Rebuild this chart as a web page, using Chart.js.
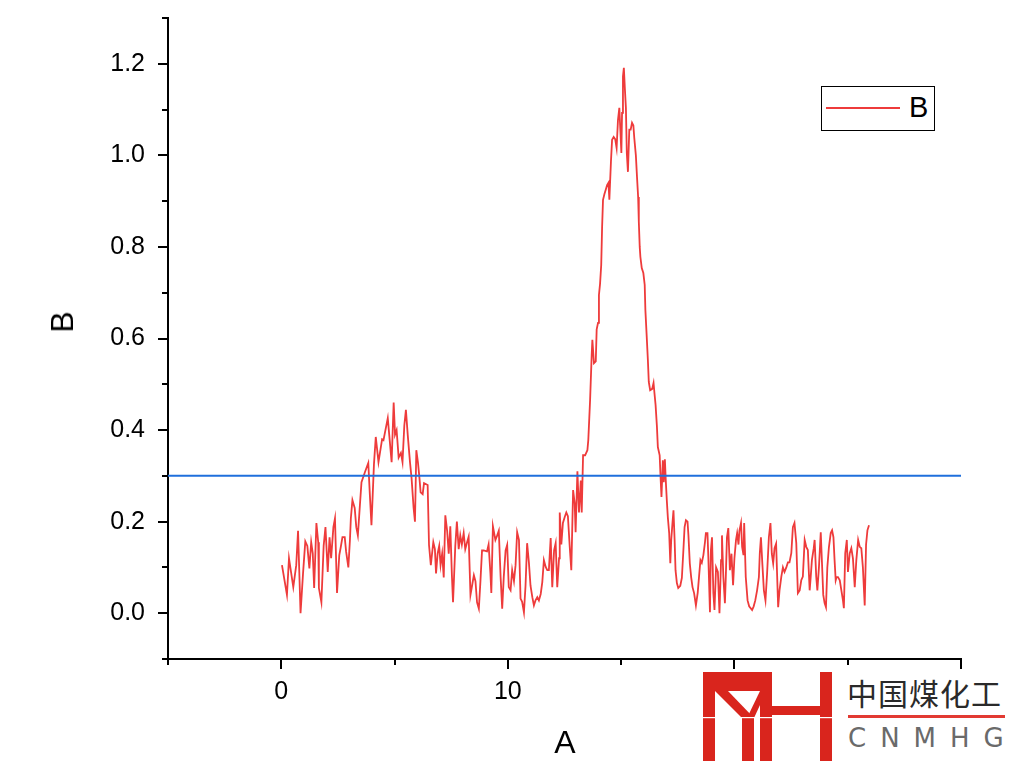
<!DOCTYPE html>
<html>
<head>
<meta charset="utf-8">
<script src="https://cdn.jsdelivr.net/npm/chart.js@4.4.1/dist/chart.umd.min.js"></script>
<style>
  html, body { margin: 0; padding: 0; background: #fff; }
  #wrap { position: relative; width: 1011px; height: 767px; overflow: hidden; font-family: "Liberation Sans", Arial, sans-serif; }
  #chart { position: absolute; left: 0; top: 0; }
  .title { position: absolute; font-size: 32px; color: #000; line-height: 1; }
  #xTitle { left: 565px; top: 742px; transform: translate(-50%, -50%); }
  #yTitle { left: 62px; top: 322px; transform: translate(-50%, -50%) rotate(-90deg); }
  #legend { position: absolute; left: 821px; top: 86px; width: 114px; height: 45px; border: 1px solid #000; box-sizing: border-box; background: #fff; }
  #legend .swatch { position: absolute; left: 4px; top: 20px; width: 74px; height: 0; border-top: 2px solid #ee3b3b; }
  #legend .lbl { position: absolute; left: 87px; top: 6px; font-size: 29px; line-height: 1; }
  #logoBg { position: absolute; left: 696px; top: 670px; width: 315px; height: 97px; background: #fff; }
  #logo { position: absolute; left: 703px; top: 672px; }
  #logoCn { position: absolute; left: 847px; top: 676px; font-family: "Noto Sans CJK SC", sans-serif; font-size: 30px; color: #2a2a2a; letter-spacing: 1px; line-height: 1.1; }
  #logoRule { position: absolute; left: 848px; top: 715px; width: 157px; height: 3px; background: #e23a32; }
  #logoEn { position: absolute; left: 848px; top: 724px; font-family: "DejaVu Sans", sans-serif; font-size: 26px; color: #6a6a6a; letter-spacing: 14px; line-height: 1.1; }
</style>
</head>
<body>
<div id="wrap">
  <canvas id="chart" width="1011" height="767"></canvas>
  <div class="title" id="xTitle">A</div>
  <div class="title" id="yTitle">B</div>
  <div id="legend"><div class="swatch"></div><div class="lbl">B</div></div>
  <div id="logoBg"></div>
  <svg id="logo" width="132" height="90" viewBox="0 0 132 90">
    <g fill="#d9251d">
      <rect x="0" y="0" width="12" height="89"/>
      <rect x="0" y="0" width="69" height="19"/>
      <polygon points="12,19 25,19 51,46 39,46"/>
      <polygon points="57,19 57,33 51,46 44,46"/>
      <rect x="39" y="44" width="12" height="45"/>
      <rect x="57" y="0" width="12" height="89"/>
      <rect x="69" y="34" width="48" height="9"/>
      <rect x="117" y="0" width="12" height="89"/>
    </g>
    <rect x="0" y="45" width="132" height="1.2" fill="#fff"/>
  </svg>
  <div id="logoCn">中国煤化工</div>
  <div id="logoRule"></div>
  <div id="logoEn">CNMHG</div>
</div>
<script>
// --- DATA ---
const xValues = [
  0.03, 0.25, 0.34, 0.53, 0.66, 0.74, 0.85, 0.96, 1.06, 1.15, 1.24, 1.32, 1.39, 1.45, 1.55, 1.63, 1.66, 1.77, 1.87, 1.95,
  2.05, 2.13, 2.2, 2.3, 2.37, 2.46, 2.56, 2.62, 2.7, 2.8, 2.86, 2.96, 3.03, 3.07, 3.14, 3.24, 3.31, 3.38, 3.47, 3.54,
  3.69, 3.84, 3.91, 3.98, 4.09, 4.17, 4.29, 4.45, 4.51, 4.7, 4.87, 4.96, 5.02, 5.09, 5.18, 5.28, 5.35, 5.43, 5.5, 5.58,
  5.68, 5.75, 5.84, 5.9, 5.96, 6.03, 6.09, 6.15, 6.24, 6.3, 6.46, 6.52, 6.6, 6.71, 6.78, 6.83, 6.9, 6.97, 7.03, 7.1,
  7.17, 7.24, 7.32, 7.39, 7.46, 7.53, 7.58, 7.68, 7.75, 7.83, 7.9, 7.97, 8.05, 8.12, 8.2, 8.27, 8.35, 8.42, 8.5, 8.57,
  8.64, 8.72, 8.79, 8.86, 8.93, 9.08, 9.15, 9.23, 9.27, 9.34, 9.45, 9.53, 9.6, 9.68, 9.75, 9.82, 9.9, 9.97, 10.04, 10.12,
  10.19, 10.27, 10.34, 10.41, 10.49, 10.56, 10.63, 10.71, 10.78, 10.85, 10.93, 11.0, 11.08, 11.15, 11.22, 11.3, 11.37, 11.45, 11.52, 11.59,
  11.67, 11.74, 11.81, 11.89, 11.96, 12.04, 12.11, 12.18, 12.26, 12.29, 12.36, 12.43, 12.51, 12.58, 12.65, 12.73, 12.8, 12.88, 12.95, 12.99,
  13.07, 13.14, 13.22, 13.26, 13.32, 13.41, 13.51, 13.55, 13.63, 13.7, 13.73, 13.8, 13.88, 13.92, 13.98, 14.02, 14.07, 14.12, 14.16, 14.2,
  14.26, 14.32, 14.38, 14.44, 14.48, 14.55, 14.6, 14.67, 14.74, 14.8, 14.86, 14.92, 14.97, 15.01, 15.04, 15.08, 15.12, 15.16, 15.21, 15.25,
  15.3, 15.36, 15.42, 15.48, 15.54, 15.58, 15.65, 15.7, 15.75, 15.78, 15.82, 15.85, 15.91, 15.98, 16.04, 16.07, 16.13, 16.18, 16.22, 16.28,
  16.37, 16.43, 16.47, 16.52, 16.58, 16.62, 16.7, 16.74, 16.78, 16.84, 16.88, 16.93, 16.97, 17.02, 17.06, 17.12, 17.17, 17.21, 17.27, 17.31,
  17.36, 17.4, 17.46, 17.52, 17.61, 17.68, 17.74, 17.8, 17.86, 17.93, 17.97, 18.03, 18.09, 18.15, 18.22, 18.3, 18.38, 18.45, 18.5, 18.56,
  18.63, 18.7, 18.74, 18.81, 18.85, 18.92, 18.96, 19.01, 19.07, 19.12, 19.19, 19.27, 19.34, 19.41, 19.45, 19.51, 19.58, 19.62, 19.67, 19.73,
  19.8, 19.87, 19.94, 20.0, 20.07, 20.12, 20.18, 20.22, 20.29, 20.34, 20.4, 20.43, 20.5, 20.58, 20.65, 20.78, 20.85, 20.92, 21.0, 21.08,
  21.12, 21.17, 21.23, 21.3, 21.37, 21.44, 21.52, 21.59, 21.65, 21.71, 21.77, 21.84, 21.93, 21.99, 22.07, 22.14, 22.21, 22.29, 22.36, 22.43,
  22.51, 22.58, 22.65, 22.73, 22.8, 22.88, 22.95, 23.02, 23.1, 23.17, 23.24, 23.32, 23.36, 23.42, 23.5, 23.54, 23.61, 23.66, 23.73, 23.81,
  23.86, 23.92, 23.98, 24.04, 24.1, 24.17, 24.25, 24.31, 24.37, 24.42, 24.47, 24.51, 24.57, 24.65, 24.72, 24.79, 24.83, 24.89, 24.96, 25.01,
  25.09, 25.16, 25.23, 25.31, 25.38, 25.46, 25.53, 25.6, 25.67, 25.75, 25.81, 25.87, 25.94
];
const bValues = [
  0.105, 0.04, 0.12, 0.057, 0.105, 0.18, 0.0, 0.087, 0.157, 0.147, 0.098, 0.155, 0.13, 0.055, 0.197, 0.155, 0.055, 0.024, 0.147, 0.188,
  0.09, 0.166, 0.12, 0.188, 0.207, 0.044, 0.127, 0.143, 0.166, 0.166, 0.135, 0.1, 0.16, 0.207, 0.247, 0.23, 0.188, 0.17, 0.236, 0.286,
  0.308, 0.328, 0.258, 0.192, 0.325, 0.385, 0.33, 0.38, 0.378, 0.426, 0.33, 0.46, 0.39, 0.40, 0.34, 0.35, 0.33, 0.41, 0.444, 0.39,
  0.33, 0.295, 0.23, 0.2, 0.356, 0.33, 0.3, 0.264, 0.26, 0.284, 0.28, 0.149, 0.105, 0.155, 0.14, 0.087, 0.13, 0.147, 0.105, 0.13,
  0.078, 0.214, 0.18, 0.13, 0.19, 0.083, 0.024, 0.147, 0.2, 0.14, 0.17, 0.15, 0.175, 0.14, 0.155, 0.167, 0.04, 0.06, 0.083, 0.07,
  0.024, 0.01, 0.07, 0.137, 0.137, 0.135, 0.15, 0.087, 0.044, 0.19, 0.16, 0.17, 0.18, 0.079, 0.01, 0.08, 0.137, 0.149, 0.057, 0.05,
  0.094, 0.07, 0.105, 0.177, 0.16, 0.032, 0.025, 0.002, 0.06, 0.153, 0.11, 0.06, 0.035, 0.017, 0.028, 0.035, 0.028, 0.042, 0.068, 0.116,
  0.101, 0.094, 0.094, 0.164, 0.057, 0.137, 0.153, 0.057, 0.12, 0.22, 0.15, 0.197, 0.21, 0.22, 0.212, 0.146, 0.094, 0.269, 0.24, 0.177,
  0.31, 0.22, 0.29, 0.22, 0.345, 0.345, 0.356, 0.378, 0.466, 0.564, 0.597, 0.546, 0.55, 0.62, 0.634, 0.695, 0.72, 0.76, 0.844, 0.903,
  0.915, 0.925, 0.935, 0.94, 0.903, 0.986, 1.034, 1.04, 1.035, 1.016, 1.077, 1.104, 1.05, 1.005, 1.093, 1.172, 1.191, 1.15, 1.104, 1.005,
  0.964, 1.056, 1.056, 1.071, 1.065, 1.038, 1.0, 0.953, 0.909, 0.855, 0.8, 0.778, 0.754, 0.743, 0.717, 0.662, 0.603, 0.553, 0.505, 0.487,
  0.49, 0.503, 0.481, 0.455, 0.407, 0.363, 0.345, 0.297, 0.254, 0.334, 0.286, 0.336, 0.29, 0.243, 0.21, 0.175, 0.109, 0.16, 0.2, 0.225,
  0.16, 0.094, 0.066, 0.055, 0.06, 0.077, 0.131, 0.188, 0.203, 0.2, 0.17, 0.109, 0.079, 0.057, 0.044, 0.017, 0.045, 0.087, 0.116, 0.11,
  0.127, 0.155, 0.175, 0.175, 0.12, 0.002, 0.137, 0.166, 0.044, 0.007, 0.1, 0.09, 0.0, 0.116, 0.17, 0.08, 0.022, 0.08, 0.166, 0.186,
  0.094, 0.13, 0.061, 0.12, 0.16, 0.175, 0.15, 0.18, 0.197, 0.145, 0.127, 0.197, 0.079, 0.028, 0.015, 0.007, 0.015, 0.028, 0.05, 0.079,
  0.131, 0.166, 0.11, 0.05, 0.028, 0.085, 0.166, 0.197, 0.13, 0.109, 0.142, 0.152, 0.013, 0.05, 0.08, 0.1, 0.09, 0.1, 0.111, 0.111,
  0.131, 0.188, 0.197, 0.153, 0.044, 0.05, 0.072, 0.08, 0.16, 0.145, 0.138, 0.05, 0.075, 0.116, 0.142, 0.16, 0.08, 0.05, 0.1, 0.177,
  0.115, 0.04, 0.022, 0.013, 0.1, 0.144, 0.175, 0.181, 0.166, 0.116, 0.072, 0.079, 0.079, 0.072, 0.05, 0.028, 0.011, 0.131, 0.16, 0.09,
  0.131, 0.142, 0.12, 0.057, 0.116, 0.16, 0.145, 0.142, 0.1, 0.017, 0.15, 0.181, 0.192
];
// horizontal reference line
const refX = [-5, 30];
const refY = [0.3, 0.3];

const xTicks = [0, 10, 20, 30];
const yTicks = [0, 0.2, 0.4, 0.6, 0.8, 1.0, 1.2];
const xMinorTicks = [-5, 5, 15, 25];
const yMinorTicks = [-0.1, 0.1, 0.3, 0.5, 0.7, 0.9, 1.1, 1.3];

const FONT = '"Liberation Sans", Arial, sans-serif';

// minor tick marks (Chart.js has none built in)
const minorTicks = {
  id: 'minorTicks',
  afterDraw(chart) {
    const ctx = chart.ctx;
    const xs = chart.scales.x, ys = chart.scales.y;
    const area = chart.chartArea;
    ctx.save();
    ctx.strokeStyle = '#000';
    ctx.lineWidth = 2;
    ctx.beginPath();
    xMinorTicks.forEach(v => {
      const px = Math.round(xs.getPixelForValue(v));
      ctx.moveTo(px, area.bottom); ctx.lineTo(px, area.bottom + 6);
    });
    yMinorTicks.forEach(v => {
      const py = Math.round(ys.getPixelForValue(v));
      ctx.moveTo(area.left, py); ctx.lineTo(area.left - 6, py);
    });
    ctx.stroke();
    ctx.restore();
  }
};

new Chart(document.getElementById('chart'), {
  type: 'line',
  data: {
    datasets: [
      {
        label: 'ref',
        data: refX.map((x, i) => ({ x, y: refY[i] })),
        borderColor: '#1f6fdc',
        borderWidth: 2,
        pointRadius: 0
      },
      {
        label: 'B',
        data: xValues.map((x, i) => ({ x, y: bValues[i] })),
        borderColor: '#ee3b3b',
        borderWidth: 1.8,
        pointRadius: 0,
        tension: 0
      }
    ]
  },
  options: {
    responsive: false,
    animation: false,
    devicePixelRatio: 1,
    layout: { padding: { left: 0, right: 50, top: 18, bottom: 0 } },
    plugins: { legend: { display: false }, tooltip: { enabled: false } },
    scales: {
      x: {
        type: 'linear',
        min: -5, max: 30,
        afterFit: s => { s.height = 108; s.paddingLeft = 0; s.paddingRight = 0; },
        afterBuildTicks: s => { s.ticks = xTicks.map(v => ({ value: v })); },
        border: { display: true, color: '#000', width: 2 },
        grid: { drawOnChartArea: false, drawTicks: true, tickLength: 10, color: '#000', lineWidth: 2 },
        ticks: { color: '#000', padding: 8, font: { family: FONT, size: 25 }, maxRotation: 0 }
      },
      y: {
        type: 'linear',
        min: -0.1, max: 1.3,
        afterFit: s => { s.width = 168; s.paddingTop = 0; s.paddingBottom = 0; },
        afterBuildTicks: s => { s.ticks = yTicks.map(v => ({ value: v })); },
        border: { display: true, color: '#000', width: 2 },
        grid: { drawOnChartArea: false, drawTicks: true, tickLength: 10, color: '#000', lineWidth: 2 },
        ticks: {
          color: '#000', padding: 13,
          font: { family: FONT, size: 25 },
          callback: v => Number(v).toFixed(1)
        }
      }
    }
  },
  plugins: [minorTicks]
});
</script>
</body>
</html>
